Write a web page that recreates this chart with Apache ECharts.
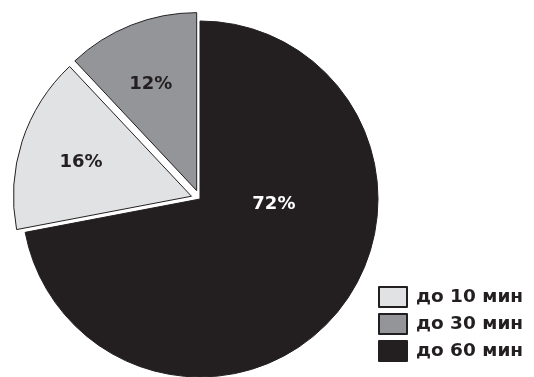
<!DOCTYPE html>
<html>
<head>
<meta charset="utf-8">
<script src="https://cdn.jsdelivr.net/npm/echarts@6/dist/echarts.min.js"></script>
<style>
html,body{margin:0;padding:0;background:#fff;}
#chart{width:534px;height:377px;}
</style>
</head>
<body>
<div id="chart"></div>
<script>
// Data
const categories = ['до 60 мин', 'до 10 мин', 'до 30 мин'];
const values = [72, 16, 12];
const legendOrder = ['до 10 мин', 'до 30 мин', 'до 60 мин'];

const colors = ['#231f20', '#e1e2e4', '#939598'];
const labelColors = ['#ffffff', '#231f20', '#231f20'];
const explode = [false, true, true];
const labelShift = [[3, -53], [-23, -5], [-12, -21]];

const chart = echarts.init(document.getElementById('chart'), null, {renderer: 'canvas'});
const FONT = '"DejaVu Sans", Arial, sans-serif';

chart.setOption({
  animation: false,
  legend: {
    orient: 'vertical',
    left: 378,
    top: 286,
    padding: 0,
    icon: 'rect',
    itemWidth: 28,
    itemHeight: 20,
    itemGap: 5,
    data: legendOrder,
    selectedMode: false,
    textStyle: {fontFamily: FONT, fontWeight: 'bold', fontSize: 18.5, lineHeight: 18, color: '#231f20', padding: [0,0,0,4]}
  },
  series: [{
    type: 'pie',
    center: [200, 199],
    radius: [0, 178],
    startAngle: 90,
    clockwise: true,
    selectedMode: 'multiple',
    selectedOffset: 9,
    avoidLabelOverlap: false,
    emphasis: {disabled: true},
    label: {
      position: 'inside',
      formatter: '{c}%',
      fontFamily: FONT,
      fontWeight: 'bold',
      fontSize: 18
    },
    labelLine: {show: false},
    labelLayout: function (p) {
      return {dx: labelShift[p.dataIndex][0], dy: labelShift[p.dataIndex][1]};
    },
    data: categories.map((name, i) => ({
      name: name,
      value: values[i],
      selected: explode[i],
      itemStyle: {color: colors[i], borderColor: '#231f20', borderWidth: 1},
      label: {color: labelColors[i]}
    }))
  }]
});
</script>
</body>
</html>
